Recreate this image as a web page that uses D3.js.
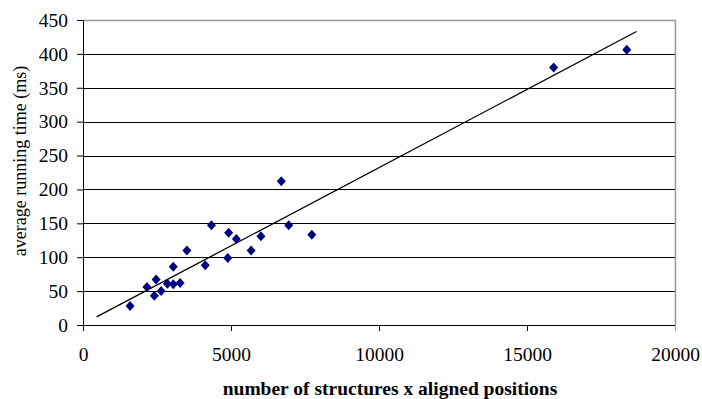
<!DOCTYPE html>
<html>
<head>
<meta charset="utf-8">
<script src="https://cdn.jsdelivr.net/npm/d3@7/dist/d3.min.js"></script>
<style>
  body { margin: 0; background: #fff; }
  text { font-family: "Liberation Serif", "Times New Roman", serif; fill: #000; }
</style>
</head>
<body>
<div class="container"></div>
<script>
var width = 702;
var height = 399;
var padding = { top: 20, bottom: 74, left: 83, right: 27 };

// measured points (structures x aligned positions, avg running time ms)
var xValues = [1590, 2160, 2470, 2410, 2640, 2850, 3050, 3050, 3280, 3510, 4130, 4340,
               4890, 4920, 5180, 5680, 6010, 6700, 6950, 7730, 15900, 18370];
var yValues = [28, 56, 67, 43, 50, 61, 60, 86, 62, 110, 88, 147,
               99, 136, 127, 110, 131, 212, 147, 133, 380, 406];

// linear trend line, end points
var trendX = [460, 18700];
var trendY = [12, 433];

var xTicks = [0, 5000, 10000, 15000, 20000];
var yTicks = [0, 50, 100, 150, 200, 250, 300, 350, 400, 450];

var svg = d3.select(".container").append("svg")
  .attr("width", width)
  .attr("height", height);

var xScale = d3.scaleLinear().domain([0, 20000]).range([padding.left, width - padding.right]);
var yScale = d3.scaleLinear().domain([0, 450]).range([height - padding.bottom, padding.top]);

// gridlines
svg.append("g").selectAll("line")
  .data(yTicks.filter(function(t) { return t > 0 && t < 450; }))
  .enter().append("line")
  .attr("x1", xScale(0))
  .attr("x2", xScale(20000))
  .attr("y1", function(d) { return Math.round(yScale(d)) + 0.5; })
  .attr("y2", function(d) { return Math.round(yScale(d)) + 0.5; })
  .style("stroke", "#000")
  .style("stroke-width", 1);

// plot border (top and right are grey)
svg.append("path")
  .attr("d", "M" + xScale(0) + "," + (Math.round(yScale(450)) + 0.5) +
             "H" + (Math.round(xScale(20000)) + 0.5) +
             "V" + yScale(0))
  .style("fill", "none")
  .style("stroke", "#999")
  .style("stroke-width", 1.5);

// axes
var axisX = d3.axisBottom(xScale).tickValues(xTicks).tickFormat(d3.format("d"))
  .tickSizeInner(6).tickSizeOuter(0).tickPadding(16);
var axisY = d3.axisLeft(yScale).tickValues(yTicks).tickFormat(d3.format("d"))
  .tickSizeInner(6).tickSizeOuter(0).tickPadding(9);

var gx = svg.append("g")
  .attr("transform", "translate(0," + Math.round(yScale(0)) + ")")
  .call(axisX);
var gy = svg.append("g")
  .attr("transform", "translate(" + Math.round(xScale(0)) + ",0)")
  .call(axisY);

[gx, gy].forEach(function(g) {
  g.selectAll("text")
    .style("font-family", "'Liberation Serif', serif")
    .style("font-size", "19.5px");
  g.selectAll("path, line").style("stroke", "#000");
});
gx.selectAll(".tick line").style("stroke", function(d) { return d === 20000 ? "#999" : "#000"; });

// trend line
svg.append("line")
  .attr("x1", xScale(trendX[0]))
  .attr("y1", yScale(trendY[0]))
  .attr("x2", xScale(trendX[1]))
  .attr("y2", yScale(trendY[1]))
  .style("stroke", "#000")
  .style("stroke-width", 1.3);

// diamond markers
var points = xValues.map(function(x, i) { return { x: x, y: yValues[i] }; });
svg.append("g").selectAll("path")
  .data(points)
  .enter().append("path")
  .attr("d", "M0,-5L4.5,0L0,5L-4.5,0Z")
  .attr("transform", function(d) { return "translate(" + xScale(d.x) + "," + yScale(d.y) + ")"; })
  .style("fill", "#000080");

// axis titles
svg.append("text")
  .attr("x", 390)
  .attr("y", 395)
  .style("text-anchor", "middle")
  .style("font-size", "19.5px")
  .style("font-weight", "bold")
  .text("number of structures x aligned positions");

svg.append("text")
  .attr("transform", "rotate(-90)")
  .attr("x", -161)
  .attr("y", 26)
  .style("text-anchor", "middle")
  .style("font-size", "18px")
  .text("average running time (ms)");
</script>
</body>
</html>
